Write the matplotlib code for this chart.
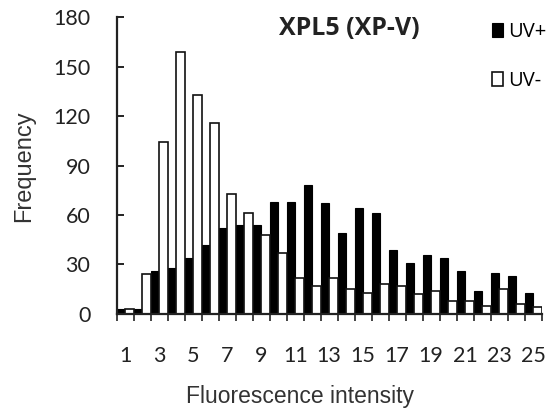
import numpy as np
import matplotlib
matplotlib.use('agg')
import matplotlib.pyplot as plt

# fluorescence intensity classes 1..25
intensity = np.arange(1, 26)
uv_plus = [3, 3, 26, 28, 34, 42, 52, 54, 54, 68, 68, 78, 67, 49, 64,
           61, 39, 31, 36, 34, 26, 14, 25, 23, 13]
uv_minus = [3, 24, 104, 159, 133, 116, 73, 61, 48, 37, 22, 17, 22, 15, 13,
            18, 17, 12, 14, 8, 8, 5, 15, 6, 4]
y_ticks = [0, 30, 60, 90, 120, 150, 180]
x_labels = [1, 3, 5, 7, 9, 11, 13, 15, 17, 19, 21, 23, 25]

fig = plt.figure(figsize=(5.52, 4.08), dpi=100)
ax = fig.add_axes([0.2114, 0.2304, 0.7699, 0.7279])

w = 0.5
ax.bar(intensity - w / 2, uv_plus, width=w, color='black', edgecolor='black',
       linewidth=0.8, label='UV+')
ax.bar(intensity + w / 2, uv_minus, width=w, color='white', edgecolor='#111111',
       linewidth=1.2, label='UV-')

ax.set_xlim(0.5, 25.5)
ax.set_ylim(0, 180)

ax.spines['top'].set_visible(False)
ax.spines['right'].set_visible(False)
ax.spines['left'].set_linewidth(1.6)
ax.spines['bottom'].set_linewidth(1.6)
ax.spines['left'].set_color('#222222')
ax.spines['bottom'].set_color('#222222')

ax.set_yticks(y_ticks)
ax.tick_params(axis='y', direction='in', length=5, width=1.4, pad=19,
               labelsize=15.5, colors='#222222')
ax.set_xticks(np.arange(0.5, 26, 1))
ax.set_xticklabels([])
ax.tick_params(axis='x', direction='out', length=5, width=1.2, colors='#222222')
for lab in ax.get_yticklabels():
    lab.set_family('Lato')

for v in x_labels:
    ax.text(v, -0.142, str(v), transform=ax.get_xaxis_transform(),
            ha='center', va='center', fontsize=15.5, family='Lato', color='#222222')

ax.set_xlabel('Fluorescence intensity', fontsize=16.5, family='Liberation Sans',
              color='#333333')
ax.xaxis.set_label_coords(0.431, -0.238)
ax.set_ylabel('Frequency', fontsize=17, family='Liberation Sans', color='#333333')
ax.yaxis.set_label_coords(-0.192, 0.497)

ax.text(0.547, 0.963, 'XPL5 (XP-V)', transform=ax.transAxes, ha='center',
        va='center', fontsize=18, fontweight='bold', family='Open Sans',
        color='#222222')

fig.legend(loc='upper left', bbox_to_anchor=(0.891, 0.946), frameon=False,
           handlelength=0.55, handleheight=0.65, handletextpad=0.25,
           labelspacing=1.45, borderaxespad=0, borderpad=0,
           prop={'family': 'Open Sans', 'size': 14.5})

plt.savefig('out.png', dpi=100)
